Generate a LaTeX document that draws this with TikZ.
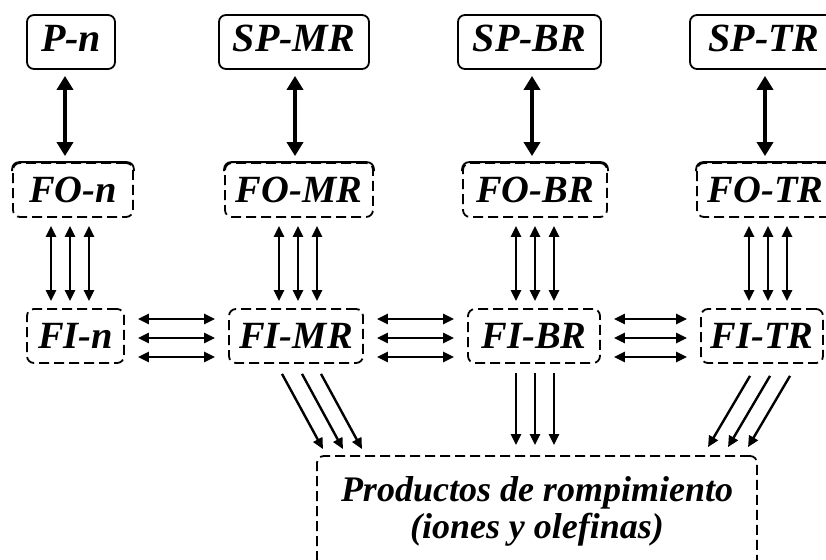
\documentclass[tikz,border=0pt]{standalone}
\usepackage{fontspec}
\setmainfont{Liberation Serif}
\usetikzlibrary{arrows.meta}

\tikzset{
  cell/.style={draw,line width=1.8pt,rounded corners=7pt,inner sep=0pt,
    minimum height=54pt,font=\fontsize{38.5}{40}\selectfont\bfseries\itshape},
  topcell/.style={cell,text depth=7pt,font=\fontsize{40}{42}\selectfont\bfseries\itshape},
  dcell/.style={cell,dash pattern=on 10pt off 5pt},
  bigarr/.style={line width=4pt,{Triangle[length=14pt,width=16pt]}-{Triangle[length=14pt,width=16pt]}},
  triarr/.style={line width=2.8pt,{Triangle[length=11pt,width=10pt]}-{Triangle[length=11pt,width=10pt]}},
  outarr/.style={line width=2.4pt,-{Triangle[length=11pt,width=10pt]}}
}

\begin{document}
\begin{tikzpicture}[x=1pt,y=-1pt]
\useasboundingbox (0,0) rectangle (826,559);

% top row
\node[topcell,minimum width=88pt]  (Pn)   at (71,42)    {P-n};
\node[topcell,minimum width=150pt] (SPMR) at (294,42)   {SP-MR};
\node[topcell,minimum width=143pt] (SPBR) at (529.5,42) {SP-BR};
\node[topcell,minimum width=148pt] (SPTR) at (764,42)   {SP-TR};

% FO row
\node[dcell,minimum width=120pt] (FOn)  at (73,190)    {FO-n};
\node[dcell,minimum width=148pt] (FOMR) at (299,190)   {FO-MR};
\node[dcell,minimum width=144pt] (FOBR) at (535,190)   {FO-BR};
\node[dcell,minimum width=137pt] (FOTR) at (765.5,190) {FO-TR};

% solid top edge on the FO boxes
\foreach \n in {FOn,FOMR,FOBR,FOTR}
  \draw[line width=1.8pt,rounded corners=7pt] ([yshift=-9pt]\n.north west) |- (\n.north) -| ([yshift=-9pt]\n.north east);

% FI row
\node[dcell,minimum width=97pt]  (FIn)  at (75.5,336) {FI-n};
\node[dcell,minimum width=134pt] (FIMR) at (296,336)  {FI-MR};
\node[dcell,minimum width=132pt] (FIBR) at (534,336)  {FI-BR};
\node[dcell,minimum width=122pt] (FITR) at (762,336)  {FI-TR};

\node[dcell,minimum width=440pt,minimum height=110pt,align=center,
  font=\fontsize{36}{37}\selectfont\bfseries\itshape] (Prod) at (537,511)
  {Productos de rompimiento\\(iones y olefinas)};

% top row <-> FO
\foreach \a/\b/\s in {Pn/FOn/-6,SPMR/FOMR/1,SPBR/FOBR/2.5,SPTR/FOTR/1}
  \draw[bigarr,shorten <=6pt,shorten >=6pt] ([xshift=\s pt]\a.south) coordinate (t) -- (t |- \b.north);

% FO <-> FI
\foreach \a/\b/\c in {FOn/FIn/-3,FOMR/FIMR/-1,FOBR/FIBR/0,FOTR/FITR/2.5}
  \foreach \d in {-19,0,19}
    \draw[triarr,shorten <=8pt,shorten >=7pt] ([xshift={(\c+\d)*1pt}]\a.south) coordinate (t) -- (t |- \b.north);

% FI <-> FI
\foreach \a/\b in {FIn/FIMR,FIMR/FIBR,FIBR/FITR}
  \foreach \d in {17,-2,-21}
    \draw[triarr,shorten <=13pt,shorten >=13pt] ([yshift=\d pt]\a.east) coordinate (t) -- (t -| \b.west);

% FI -> products
\foreach \d in {-14,6,25}
  \draw[outarr] ([xshift=\d pt,yshift=-10pt]FIMR.south) -- ([xshift={(\d+41)*1pt},yshift=6pt]FIMR.south |- Prod.north);
\foreach \d in {-18,1,20}
  \draw[outarr,shorten <=9pt,shorten >=10pt] ([xshift=\d pt]FIBR.south) coordinate (t) -- (t |- Prod.north);
\foreach \d in {-12,8,28}
  \draw[outarr] ([xshift=\d pt,yshift=-12pt]FITR.south) -- ([xshift={(\d-42)*1pt},yshift=8pt]FITR.south |- Prod.north);

\end{tikzpicture}
\end{document}
